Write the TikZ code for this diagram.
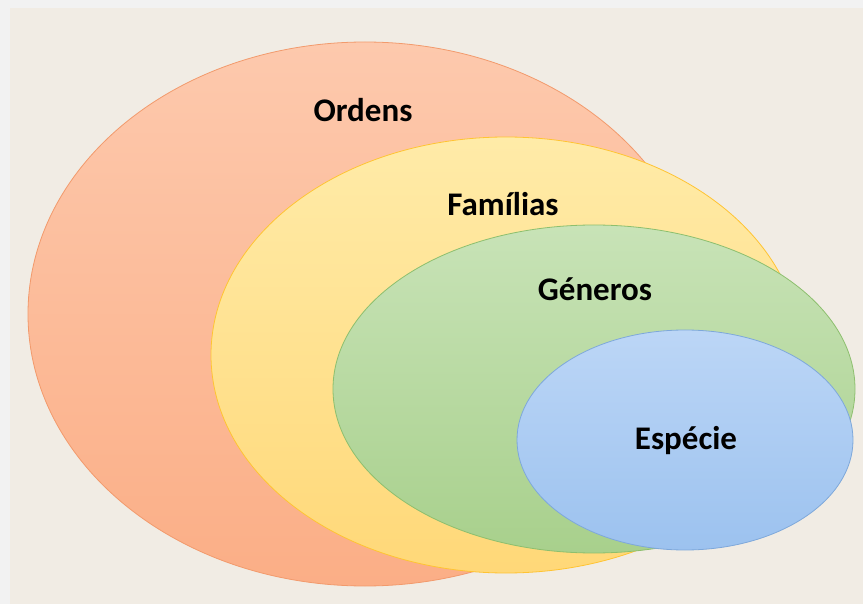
\documentclass[tikz,border=0pt]{standalone}
\usepackage{fontspec}
\setmainfont{Carlito}
\usepackage{tikz}

\definecolor{frame}{HTML}{F2F2F2}
\definecolor{paper}{HTML}{F1ECE4}
\definecolor{ordtop}{HTML}{FDC9AD}
\definecolor{ordbot}{HTML}{FBAE86}
\definecolor{ordline}{HTML}{F29A6C}
\definecolor{famtop}{HTML}{FFEBA8}
\definecolor{fambot}{HTML}{FFD878}
\definecolor{famline}{HTML}{FFC433}
\definecolor{gentop}{HTML}{C8E3B7}
\definecolor{genbot}{HTML}{A8D08C}
\definecolor{genline}{HTML}{8DBF6E}
\definecolor{esptop}{HTML}{BCD6F6}
\definecolor{espbot}{HTML}{9CC2EF}
\definecolor{espline}{HTML}{7EA8DA}

\tikzset{
	label/.style={font=\fontsize{33}{38}\selectfont\bfseries, text=black, inner sep=0pt},
	blob/.style={line width=0.8pt}
}

\begin{document}
\begin{tikzpicture}[x=1pt, y=-1pt]
	\useasboundingbox (0,0) rectangle (863,604);
	\fill[color=frame] (0,0) rectangle (863,604);
	\fill[color=paper] (10,8) rectangle (863,604);
	\shade[top color=ordtop, bottom color=ordbot] (365,314) ellipse (337 and 272);
	\draw[blob, color=ordline] (365,314) ellipse (337 and 272);
	\shade[top color=famtop, bottom color=fambot] (506,355) ellipse (295 and 218);
	\draw[blob, color=famline] (506,355) ellipse (295 and 218);
	\shade[top color=gentop, bottom color=genbot] (594,389) ellipse (261 and 164);
	\draw[blob, color=genline] (594,389) ellipse (261 and 164);
	\shade[top color=esptop, bottom color=espbot] (685,440) ellipse (168 and 110);
	\draw[blob, color=espline] (685,440) ellipse (168 and 110);
	\node[label] (ordens) at (363,110) {Ordens};
	\node[label] (familias) at (503,204) {Famílias};
	\node[label] (generos) at (595,289) {Géneros};
	\node[label] (especie) at (686,441) {Espécie};
\end{tikzpicture}
\end{document}
